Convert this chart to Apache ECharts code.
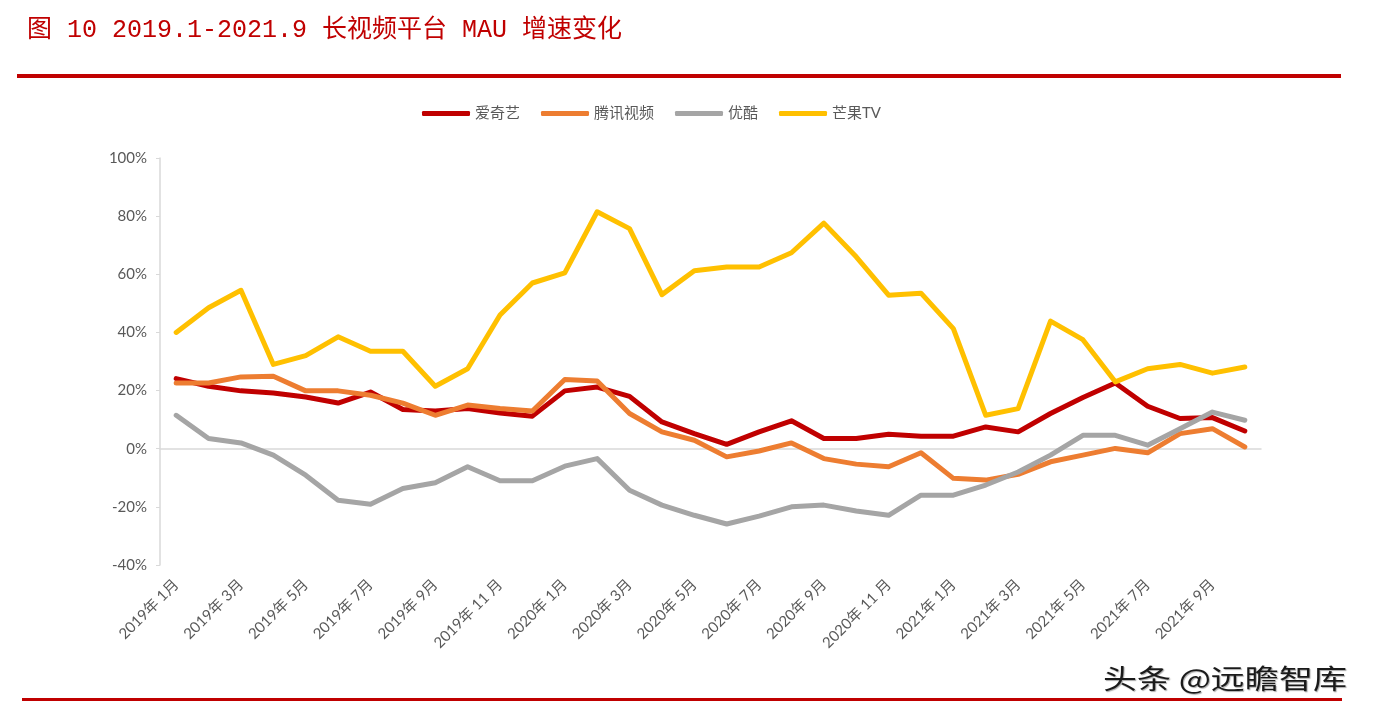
<!DOCTYPE html>
<html>
<head>
<meta charset="utf-8">
<script src="https://cdn.jsdelivr.net/npm/echarts@6/dist/echarts.min.js"></script>
<style>
html,body{margin:0;padding:0;background:#fff;}
#c{width:1373px;height:722px;}
</style>
</head>
<body>
<div id="c"></div>
<script>
const categories = [
  '2019年 1月','2019年 2月','2019年 3月','2019年 4月','2019年 5月','2019年 6月','2019年 7月','2019年 8月','2019年 9月','2019年 10 月','2019年 11 月','2019年 12 月',
  '2020年 1月','2020年 2月','2020年 3月','2020年 4月','2020年 5月','2020年 6月','2020年 7月','2020年 8月','2020年 9月','2020年 10 月','2020年 11 月','2020年 12 月',
  '2021年 1月','2021年 2月','2021年 3月','2021年 4月','2021年 5月','2021年 6月','2021年 7月','2021年 8月','2021年 9月','2021年 10 月'
];
const iqiyi = [24.1,21.5,19.9,19.2,17.8,15.7,19.5,13.5,13,13.8,12.3,11.2,19.9,21.2,18,9.2,5.2,1.5,5.8,9.6,3.5,3.5,5,4.3,4.3,7.5,5.8,12.1,17.6,22.6,14.6,10.4,10.7,6.1];
const tencent = [22.6,22.6,24.7,24.9,19.9,19.9,18.4,15.7,11.5,15,13.8,13,23.8,23.3,12.1,5.8,2.9,-2.8,-0.8,2,-3.4,-5.3,-6.2,-1.4,-10.2,-10.8,-8.8,-4.5,-2.2,0.1,-1.4,5.2,6.9,0.6];
const youku = [11.5,3.5,2,-2.2,-9.1,-17.7,-19.1,-13.7,-11.7,-6.2,-11,-11,-6,-3.4,-14.3,-19.4,-22.9,-25.9,-23.2,-20,-19.4,-21.4,-22.9,-16,-16,-12.5,-8,-2.2,4.6,4.6,1.2,6.9,12.6,9.8];
const mango = [40,48.5,54.5,29,32,38.5,33.5,33.5,21.5,27.5,46,57,60.5,81.5,75.7,53,61.2,62.5,62.5,67.4,77.6,66,52.8,53.5,41.3,11.5,13.8,43.9,37.5,23,27.5,29,26,28.1];
const seriesNames = ['爱奇艺','腾讯视频','优酷','芒果TV'];
const yTicks = {min:-40, max:100, interval:20};

const colors = ['#C00000','#ED7D31','#A5A5A5','#FFC000'];
const font = 'Lato, "Noto Sans CJK SC", sans-serif';
const chart = echarts.init(document.getElementById('c'));
const mk = (name, data, i) => ({
  name, type:'line', data, xAxisIndex:0, symbol:'none', smooth:false,
  lineStyle:{width:5, color:colors[i], cap:'round', join:'round'},
  itemStyle:{color:colors[i]}, z: 3+i
});
chart.setOption({
  animation:false,
  backgroundColor:'#fff',
  color: colors,
  grid:{left:160, right:112, top:158, bottom:157, containLabel:false},
  legend:{
    top:101, left:417, itemWidth:48, itemHeight:5, itemGap:21, icon:'roundRect',
    textStyle:{fontSize:15, color:'#595959', fontFamily:font},
    data: seriesNames
  },
  xAxis:[{
    type:'category', data:categories, position:'bottom', boundaryGap:true,
    axisLine:{show:false, onZero:false}, axisTick:{show:false},
    axisLabel:{interval:1, rotate:45, fontSize:15, color:'#595959', fontFamily:font, margin:17}
  },{
    type:'category', data:categories, boundaryGap:true,
    axisLine:{show:true, onZero:true, lineStyle:{color:'#D9D9D9', width:1.5}},
    axisTick:{show:false}, axisLabel:{show:false}, splitLine:{show:false}
  }],
  yAxis:{
    type:'value', min:yTicks.min, max:yTicks.max, interval:yTicks.interval,
    axisLine:{show:true, lineStyle:{color:'#D9D9D9', width:1.5}},
    axisTick:{show:true, length:4, lineStyle:{color:'#D9D9D9'}},
    splitLine:{show:false},
    axisLabel:{formatter:'{value}%', fontSize:15, color:'#595959', fontFamily:font, margin:13}
  },
  series:[mk(seriesNames[0], iqiyi, 0), mk(seriesNames[1], tencent, 1), mk(seriesNames[2], youku, 2), mk(seriesNames[3], mango, 3)],
  graphic:[
    {type:'text', x:27, y:30, style:{text:'图 10 2019.1-2021.9 长视频平台 MAU 增速变化', fill:'#C00000', font:'25px "Liberation Mono", "Noto Sans CJK SC", monospace', textVerticalAlign:'middle'}},
    {type:'rect', shape:{x:17, y:74, width:1324, height:4}, style:{fill:'#C00000'}},
    {type:'rect', shape:{x:22, y:698, width:1320, height:3}, style:{fill:'#C00000'}},
    {type:'text', x:1103, y:679, scaleX:1.26, z:10, style:{text:'头条 @远瞻智库', fill:'#1a1a1a', font:'27px "Noto Sans CJK SC", sans-serif', textVerticalAlign:'middle', textShadowColor:'rgba(160,160,160,0.9)', textShadowBlur:1, textShadowOffsetX:1, textShadowOffsetY:1}}
  ]
});
</script>
</body>
</html>
